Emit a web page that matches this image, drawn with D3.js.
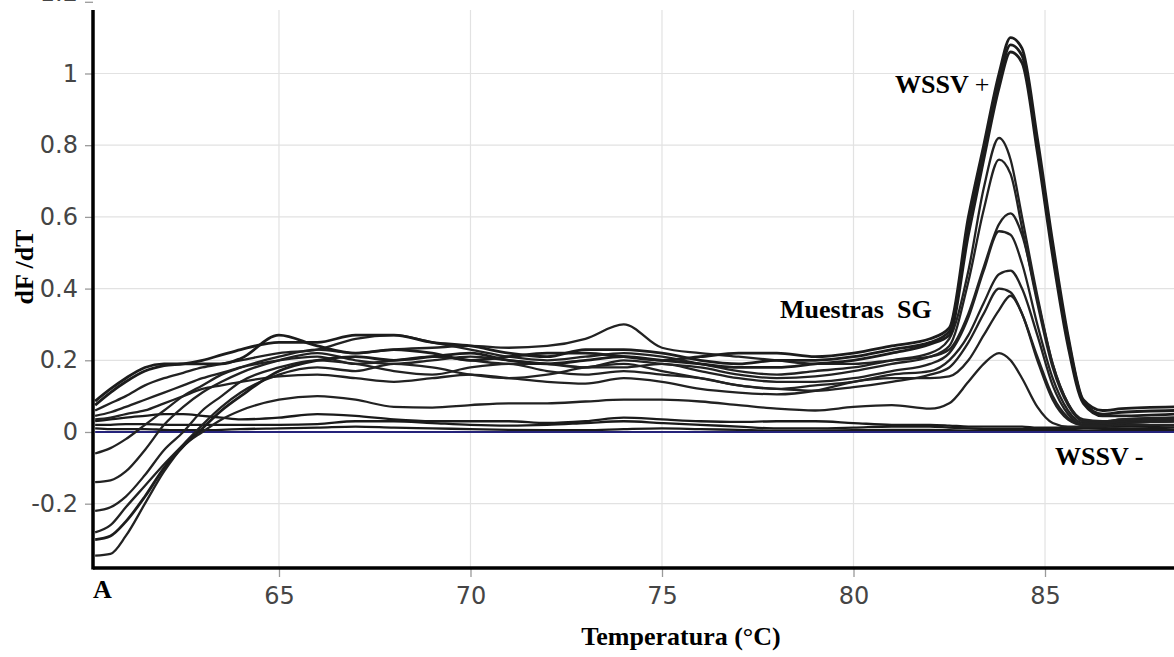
<!DOCTYPE html>
<html>
<head>
<meta charset="utf-8">
<script src="https://cdnjs.cloudflare.com/ajax/libs/d3/7.8.5/d3.min.js"></script>
<style>
 body { margin: 0; background: #ffffff; }
</style>
</head>
<body>
<div id="chart"></div>
<script>
// temperature points shared by every melting curve (°C)
var temps = [60.2, 60.6, 61, 61.5, 62, 62.5, 63, 63.5, 64,
 65, 66, 67, 68, 69, 70, 71, 72, 73, 74, 75, 76, 77, 78, 79, 80, 81, 82,
 82.5, 83, 83.4, 83.8, 84.1, 84.4, 84.8, 85.2, 85.6, 86, 86.5, 87, 88.4];

// WSSV + controls (dF/dT), the three overlapping tall peaks
var wssvPos1 = [0.086, 0.12, 0.15, 0.18, 0.19, 0.19, 0.19, 0.19, 0.205,
 0.27, 0.24, 0.22, 0.23, 0.22, 0.2, 0.21, 0.22, 0.22, 0.21, 0.2, 0.21, 0.22, 0.22, 0.21, 0.22, 0.24, 0.26,
 0.29, 0.6, 0.8, 1.0, 1.10, 1.07, 0.82, 0.53, 0.27, 0.09, 0.06, 0.065, 0.07];
var wssvPos2 = [0.075, 0.11, 0.14, 0.17, 0.185, 0.19, 0.2, 0.215, 0.23,
 0.25, 0.25, 0.27, 0.27, 0.25, 0.24, 0.22, 0.21, 0.23, 0.23, 0.22, 0.2, 0.19, 0.2, 0.2, 0.21, 0.23, 0.25,
 0.28, 0.58, 0.78, 0.98, 1.08, 1.05, 0.80, 0.51, 0.26, 0.085, 0.05, 0.055, 0.06];
var wssvPos3 = [-0.30, -0.29, -0.25, -0.18, -0.1, -0.04, 0.01, 0.06, 0.1,
 0.17, 0.2, 0.21, 0.2, 0.21, 0.22, 0.2, 0.19, 0.2, 0.21, 0.2, 0.19, 0.18, 0.18, 0.19, 0.2, 0.22, 0.245,
 0.27, 0.55, 0.76, 0.96, 1.06, 1.03, 0.78, 0.49, 0.24, 0.08, 0.045, 0.045, 0.05];

// samples SG
var sample1 = [0.06, 0.08, 0.1, 0.13, 0.15, 0.165, 0.18, 0.19, 0.2,
 0.22, 0.23, 0.26, 0.27, 0.25, 0.23, 0.21, 0.2, 0.21, 0.22, 0.21, 0.19, 0.17, 0.16, 0.17, 0.18, 0.2, 0.22,
 0.26, 0.45, 0.68, 0.82, 0.76, 0.6, 0.38, 0.19, 0.08, 0.035, 0.03, 0.035, 0.04];
var sample2 = [0.045, 0.055, 0.07, 0.09, 0.11, 0.13, 0.15, 0.165, 0.18,
 0.2, 0.21, 0.19, 0.2, 0.21, 0.2, 0.19, 0.19, 0.18, 0.2, 0.19, 0.18, 0.16, 0.15, 0.155, 0.17, 0.19, 0.21,
 0.24, 0.42, 0.62, 0.76, 0.72, 0.57, 0.36, 0.18, 0.075, 0.03, 0.025, 0.03, 0.035];
var sample3 = [-0.06, -0.045, -0.02, 0.02, 0.06, 0.1, 0.13, 0.16, 0.18,
 0.21, 0.23, 0.22, 0.23, 0.235, 0.24, 0.235, 0.24, 0.26, 0.3, 0.235, 0.22, 0.21, 0.2, 0.19, 0.19, 0.2, 0.21,
 0.23, 0.33, 0.46, 0.58, 0.61, 0.55, 0.37, 0.19, 0.08, 0.03, 0.03, 0.035, 0.04];
var sample4 = [-0.14, -0.135, -0.11, -0.05, 0.02, 0.07, 0.11, 0.14, 0.165,
 0.2, 0.22, 0.2, 0.19, 0.2, 0.21, 0.2, 0.19, 0.18, 0.18, 0.19, 0.17, 0.15, 0.14, 0.14, 0.15, 0.17, 0.19,
 0.22, 0.32, 0.45, 0.56, 0.55, 0.47, 0.3, 0.15, 0.06, 0.025, 0.025, 0.03, 0.035];
var sample5 = [-0.22, -0.21, -0.18, -0.12, -0.05, 0.0, 0.06, 0.1, 0.14,
 0.18, 0.2, 0.19, 0.17, 0.16, 0.18, 0.19, 0.17, 0.16, 0.17, 0.16, 0.15, 0.13, 0.12, 0.13, 0.14, 0.16, 0.17,
 0.2, 0.27, 0.36, 0.44, 0.45, 0.4, 0.27, 0.13, 0.05, 0.02, 0.02, 0.025, 0.03];
var sample6 = [-0.28, -0.26, -0.21, -0.15, -0.09, -0.035, 0.02, 0.07, 0.11,
 0.16, 0.18, 0.17, 0.19, 0.18, 0.16, 0.15, 0.16, 0.18, 0.19, 0.17, 0.15, 0.13, 0.12, 0.115, 0.125, 0.14, 0.16,
 0.18, 0.25, 0.33, 0.40, 0.39, 0.33, 0.21, 0.1, 0.04, 0.02, 0.02, 0.025, 0.03];
var sample7 = [0.035, 0.04, 0.05, 0.06, 0.08, 0.1, 0.12, 0.13, 0.14,
 0.155, 0.16, 0.15, 0.14, 0.15, 0.16, 0.15, 0.14, 0.135, 0.15, 0.14, 0.12, 0.11, 0.105, 0.115, 0.14, 0.15, 0.15,
 0.155, 0.2, 0.27, 0.34, 0.38, 0.33, 0.2, 0.09, 0.035, 0.02, 0.02, 0.025, 0.03];
var sample8 = [-0.345, -0.34, -0.29, -0.2, -0.11, -0.04, 0.0, 0.035, 0.06,
 0.09, 0.1, 0.09, 0.07, 0.068, 0.075, 0.08, 0.08, 0.085, 0.09, 0.09, 0.085, 0.075, 0.065, 0.06, 0.07, 0.075, 0.065,
 0.08, 0.14, 0.19, 0.22, 0.2, 0.15, 0.07, 0.025, 0.015, 0.015, 0.015, 0.02, 0.02];

// WSSV - controls, flat near zero
var wssvNeg1 = [0.03, 0.035, 0.04, 0.045, 0.05, 0.05, 0.045, 0.04, 0.035,
 0.04, 0.05, 0.045, 0.035, 0.03, 0.03, 0.03, 0.025, 0.03, 0.04, 0.035, 0.03, 0.028, 0.03, 0.03, 0.025, 0.02, 0.02,
 0.018, 0.015, 0.015, 0.015, 0.015, 0.015, 0.012, 0.012, 0.012, 0.012, 0.014, 0.016, 0.018];
var wssvNeg2 = [0.02, 0.02, 0.022, 0.022, 0.02, 0.02, 0.02, 0.02, 0.02,
 0.02, 0.022, 0.03, 0.03, 0.025, 0.02, 0.018, 0.02, 0.025, 0.03, 0.025, 0.02, 0.015, 0.01, 0.01, 0.012, 0.015, 0.015,
 0.012, 0.01, 0.008, 0.008, 0.008, 0.008, 0.008, 0.008, 0.008, 0.01, 0.01, 0.01, 0.012];
var wssvNeg3 = [0.01, 0.008, 0.008, 0.008, 0.006, 0.005, 0.005, 0.006, 0.008,
 0.01, 0.012, 0.015, 0.012, 0.01, 0.008, 0.006, 0.005, 0.005, 0.008, 0.01, 0.008, 0.006, 0.004, 0.004, 0.005, 0.006, 0.006,
 0.005, 0.004, 0.004, 0.004, 0.004, 0.004, 0.004, 0.004, 0.004, 0.004, 0.005, 0.006, 0.006];

// blank (blue) baseline
var blankTemps = [60.2, 88.4];
var blankValues = [0, 0];

// axis ticks
var xTicks = [65, 70, 75, 80, 85];
var yTicks = [-0.2, 0, 0.2, 0.4, 0.6, 0.8, 1, 1.2];

// graphical parameters
var svgWidth = 1174;
var svgHeight = 657;
var plotLeft = 93;
var plotRight = 1174;
var plotTop = 10;
var plotBottom = 568;
var serif = '"Liberation Serif", "Times New Roman", serif';

var svg = d3.select('#chart').append('svg')
 .attr('width', svgWidth)
 .attr('height', svgHeight)
 .style('display', 'block');

svg.append('rect').attr('width', svgWidth).attr('height', svgHeight).style('fill', '#ffffff');

var x = d3.scaleLinear().domain([60.144, 88.368]).range([plotLeft, plotRight]);
var y = d3.scaleLinear().domain([-0.3794, 1.1771]).range([plotBottom, plotTop]);

// grid layer, below the curves
var gridLayer = svg.append('g').attr('class', 'gridLayer');
gridLayer.selectAll('line.vgrid').data(xTicks).enter().append('line')
 .attr('class', 'vgrid')
 .attr('x1', function(d){ return x(d); }).attr('x2', function(d){ return x(d); })
 .attr('y1', plotTop).attr('y2', plotBottom)
 .style('stroke', '#e2e2e2').style('stroke-width', 1.2);
gridLayer.selectAll('line.hgrid').data(yTicks.filter(function(d){ return d < 1.1; })).enter().append('line')
 .attr('class', 'hgrid')
 .attr('x1', plotLeft).attr('x2', plotRight)
 .attr('y1', function(d){ return y(d); }).attr('y2', function(d){ return y(d); })
 .style('stroke', '#e2e2e2').style('stroke-width', 1.2);

// axes (ticks and labels by d3, axis lines drawn separately)
var yAxis = d3.axisLeft(y).tickValues(yTicks).tickSize(8).tickPadding(7)
 .tickFormat(function(d){ return String(d); });
var yAxisG = svg.append('g').attr('transform', 'translate(' + plotLeft + ',0)').call(yAxis);
var xAxis = d3.axisBottom(x).tickValues(xTicks).tickSize(9).tickPadding(10);
var xAxisG = svg.append('g').attr('transform', 'translate(0,' + plotBottom + ')').call(xAxis);

[yAxisG, xAxisG].forEach(function(g){
 g.select('.domain').remove();
 g.selectAll('.tick line').style('stroke', '#9a9a9a').style('stroke-width', 1.3);
 g.selectAll('.tick text')
  .style('font-family', '"DejaVu Sans", sans-serif')
  .style('font-size', '24px')
  .style('fill', '#454545');
});
// the 1.2 label sits half outside the picture, as in the source figure
yAxisG.selectAll('.tick').filter(function(d){ return d > 1.1; }).select('text').attr('dy', '-0.05em');

// curves
var line = d3.line()
 .x(function(d){ return x(d[0]); })
 .y(function(d){ return y(d[1]); })
 .curve(d3.curveMonotoneX);

function pairs(ts, vs)
{
 return ts.map(function(t, i){ return [t, vs[i]]; });
}

var curveLayer = svg.append('g').attr('class', 'curveLayer');

var negCurves = [wssvNeg1, wssvNeg2, wssvNeg3];
var sampleCurves = [sample8, sample7, sample6, sample5, sample4, sample3, sample2, sample1];
var posCurves = [wssvPos3, wssvPos2, wssvPos1];

negCurves.forEach(function(vs){
 curveLayer.append('path').attr('d', line(pairs(temps, vs)))
  .style('fill', 'none').style('stroke', '#1a1a1a').style('stroke-width', 2.3);
});

curveLayer.append('path').attr('d', line(pairs(blankTemps, blankValues)))
 .style('fill', 'none').style('stroke', '#25237a').style('stroke-width', 2);

sampleCurves.forEach(function(vs){
 curveLayer.append('path').attr('d', line(pairs(temps, vs)))
  .style('fill', 'none').style('stroke', '#222222').style('stroke-width', 2.3);
});

posCurves.forEach(function(vs){
 curveLayer.append('path').attr('d', line(pairs(temps, vs)))
  .style('fill', 'none').style('stroke', '#1c1c1c').style('stroke-width', 2.8);
});

// axis lines (thick black)
svg.append('line').attr('x1', plotLeft).attr('x2', plotLeft).attr('y1', plotTop).attr('y2', plotBottom + 1.5)
 .style('stroke', '#000').style('stroke-width', 3.5);
svg.append('line').attr('x1', plotLeft).attr('x2', plotRight).attr('y1', plotBottom).attr('y2', plotBottom)
 .style('stroke', '#000').style('stroke-width', 3.5);

// texts
function label(txt, px, py, weight, anchor)
{
 return svg.append('text').attr('x', px).attr('y', py)
  .attr('text-anchor', anchor || 'start')
  .style('font-family', serif)
  .style('font-size', '26px')
  .style('font-weight', weight)
  .style('fill', '#000')
  .text(txt);
}

label('A', 93, 598, 'bold');
label('Temperatura (°C)', 681, 645, 'bold', 'middle');

svg.append('text')
 .attr('transform', 'translate(33,267) rotate(-90)')
 .attr('text-anchor', 'middle')
 .style('font-family', serif).style('font-size', '26px').style('font-weight', 'bold')
 .text('dF /dT');

var posLabel = label('WSSV ', 895, 93, 'bold');
posLabel.append('tspan').style('font-weight', 'normal').text('+');

label('Muestras  SG', 780, 318, 'bold').style('white-space', 'pre');
label('WSSV -', 1055, 465, 'bold');
</script>
</body>
</html>
